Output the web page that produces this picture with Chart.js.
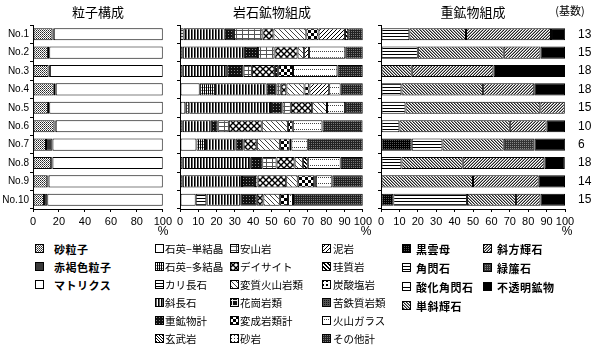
<!DOCTYPE html>
<html>
<head>
<meta charset="utf-8">
<script src="https://cdn.jsdelivr.net/npm/chart.js@4.4.1/dist/chart.umd.min.js"></script>
<style>
  body { margin: 0; background: #fff; }
  #wrap { position: relative; width: 593px; height: 356px; overflow: hidden; font-family: "Noto Sans CJK JP", sans-serif; color: #000; }
  canvas.chart { position: absolute; top: 0; }
  .ttl { position: absolute; top: 2px; font-size: 13px; white-space: nowrap; transform: translateX(-50%); }
  .pct { position: absolute; top: 224px; font-size: 12px; font-family: "Liberation Sans", sans-serif; transform: translateX(-50%); }
  .lg { position: absolute; font-size: 10.5px; white-space: nowrap; line-height: 12px; }
  .lg.b { font-weight: bold; font-size: 11px; letter-spacing: 0.5px; }
  canvas.sw { position: absolute; }
</style>
</head>
<body>
<div id="wrap">
  <canvas id="c1" class="chart" width="175" height="232" style="left:0px"></canvas>
  <canvas id="c2" class="chart" width="205" height="232" style="left:170px"></canvas>
  <canvas id="c3" class="chart" width="221" height="232" style="left:372px"></canvas>
  <div class="ttl" style="left:98px">粒子構成</div>
  <div class="ttl" style="left:272px">岩石鉱物組成</div>
  <div class="ttl" style="left:473px">重鉱物組成</div>
  <div class="ttl" style="left:570px;font-size:11px">(基数)</div>
  <div class="pct" style="left:163px">%</div>
  <div class="pct" style="left:366px">%</div>
  <div class="pct" style="left:567px">%</div>
</div>
<script>
var rowLabels = ["No.1", "No.2", "No.3", "No.4", "No.5", "No.6", "No.7", "No.8", "No.9", "No.10"];

// 粒子構成
var particleLabels = ["砂粒子", "赤褐色粒子", "マトリクス"];
var sandGrains     = [15, 11.5, 12, 16, 11.5, 16.5, 10, 14, 11, 8.5];
var redBrownGrains = [1, 1, 1, 1.5, 1, 1, 5, 1, 1, 2.5];
var matrixPart     = [84, 87.5, 87, 82.5, 87.5, 82.5, 85, 85, 88, 89];

// 岩石鉱物組成
var rockLabels = ["石英−単結晶", "石英−多結晶", "カリ長石", "斜長石", "重鉱物計", "玄武岩",
  "安山岩", "デイサイト", "変質火山岩類", "花崗岩類", "変成岩類計", "砂岩",
  "泥岩", "珪質岩", "炭酸塩岩", "苦鉄質岩類", "火山ガラス", "その他計"];
var qzMono      = [0, 0, 0, 10.8, 2.9, 0, 9, 0, 0, 8.6];
var qzPoly      = [0, 1.5, 1.5, 8.3, 2.2, 1.5, 4.7, 1.5, 1.5, 0];
var kFeldspar   = [2, 0, 0, 0, 0, 0, 0, 0, 0, 5.8];
var plagioclase = [22.5, 34, 24.3, 28.3, 44.7, 15.3, 16.6, 36.9, 32.4, 18.6];
var heavyTotal  = [5, 7.2, 9, 5.4, 6.3, 3.6, 4.5, 6.6, 7.1, 9];
var basalt      = [0, 0, 0, 0, 0, 0, 0, 0, 0, 0];
var andesite    = [15.6, 9, 4.5, 2.3, 4.5, 6.3, 0, 7.8, 1.4, 0];
var dacite      = [6, 12.6, 12.6, 3.1, 11.7, 18, 7.2, 9.9, 15.7, 3.6];
var alteredVolc = [18, 3.6, 0, 9.9, 8.1, 14.3, 12.6, 4.5, 6.3, 9];
var granite     = [0, 0, 1.8, 0, 0, 0, 0, 0, 0, 0];
var metamorphic = [6.7, 0, 8.1, 2.7, 0, 2.7, 5.4, 0, 9, 4.5];
var sandstone   = [0, 0, 0, 0, 0, 0, 0, 0, 0, 0];
var mudstone    = [14.4, 2.7, 0, 10.8, 0, 0, 0, 0, 0, 0];
var siliceous   = [1.8, 0, 0, 0, 0, 0, 0.9, 2.7, 0.9, 0];
var carbonate   = [0, 0, 0, 0, 0, 0, 0, 0, 0, 0];
var mafic       = [0, 0, 0, 0, 0, 0, 0, 0, 0, 0];
var volcGlass   = [0, 19.8, 24.3, 6.3, 9.9, 16.2, 9, 18, 9, 2.7];
var otherTotal  = [8, 9.6, 13.9, 12.1, 9.7, 22, 30.1, 12.1, 16.7, 38.2];

// 重鉱物組成
var heavyLabels = ["黒雲母", "角閃石", "酸化角閃石", "単斜輝石", "斜方輝石", "緑簾石", "不透明鉱物"];
var biotite       = [0, 0, 0, 0, 0, 0, 16.7, 0, 0, 6.7];
var hornblende    = [15.4, 20, 0, 11.1, 13.3, 10, 16.7, 11.1, 0, 40];
var oxyHornblende = [0, 0, 0, 0, 0, 0, 0, 0, 0, 0];
var clinopyroxene = [30.8, 46.7, 16.7, 44.4, 73.3, 60, 33.3, 33.3, 50, 26.7];
var orthopyroxene = [46.2, 20, 44.4, 27.8, 13.3, 20, 0, 44.4, 35.7, 13.3];
var epidote       = [0, 0, 0, 0, 0, 0, 16.7, 0, 0, 0];
var opaque        = [7.7, 13.3, 38.9, 16.7, 0, 10, 16.7, 11.1, 14.3, 13.3];
var baseCounts    = ["13", "15", "18", "18", "15", "10", "6", "18", "14", "15"];

// hatch patterns
function tile(w, h, bg, fn) {
  var c = document.createElement("canvas");
  c.width = w; c.height = h;
  var g = c.getContext("2d");
  g.fillStyle = bg; g.fillRect(0, 0, w, h);
  if (fn) fn(g, w, h);
  return g.createPattern(c, "repeat");
}
function px(g, pts, col) {
  g.fillStyle = col || "#000";
  pts.forEach(function (p) { g.fillRect(p[0], p[1], 1, 1); });
}
function diagDown(g, n, col) { for (var i = 0; i < n; i++) px(g, [[i, i]], col); }
function diagUp(g, n, col) { for (var i = 0; i < n; i++) px(g, [[i, n - 1 - i]], col); }

var sandPat  = tile(2, 2, "#fff", function (g) { px(g, [[0, 0]], "#222"); px(g, [[1, 1]], "#666"); });
var hlines   = tile(1, 3, "#fff", function (g) { px(g, [[0, 0]]); });
var vbars    = tile(3, 1, "#fff", function (g) { px(g, [[0, 0]]); px(g, [[1, 0]], "#666"); });
var finegrid = tile(2, 3, "#fff", function (g) { px(g, [[0, 0], [0, 1], [0, 2]]); px(g, [[1, 0]], "#888"); });
var darkDots = tile(3, 3, "#111", function (g) { px(g, [[1, 1]], "#888"); });
var basaltP  = tile(3, 3, "#fff", function (g) { diagDown(g, 3, "#000"); });
var andesP   = tile(6, 4, "#fff", function (g) { px(g, [[0, 2], [1, 2], [2, 2], [3, 2], [4, 2], [5, 2]], "#555"); px(g, [[0, 0], [0, 1], [0, 3]], "#555"); });
var daciteP  = tile(6, 6, "#fff", function (g) {
  g.strokeStyle = "#000"; g.lineWidth = 1.4;
  g.beginPath(); g.moveTo(0, 0); g.lineTo(6, 6); g.moveTo(6, 0); g.lineTo(0, 6); g.stroke();
});
var alteredP = tile(5, 5, "#fff", function (g) { diagDown(g, 5, "#444"); });
var graniteP = tile(5, 5, "#111", function (g) { px(g, [[2, 0], [2, 1], [2, 2], [2, 3], [2, 4], [0, 2], [1, 2], [3, 2], [4, 2]], "#eee"); });
var checkP   = tile(6, 6, "#fff", function (g) { g.fillStyle = "#000"; g.fillRect(0, 0, 3, 3); g.fillRect(3, 3, 3, 3); });
var sandstP  = tile(3, 3, "#fff", function (g) { px(g, [[1, 1]], "#333"); });
var mudP     = tile(4, 4, "#fff", function (g) { diagUp(g, 4, "#000"); });
var silicP   = tile(4, 4, "#fff", function (g) { diagDown(g, 4, "#000"); px(g, [[1, 0], [2, 1], [3, 2], [0, 3]], "#000"); });
var carbP    = tile(4, 4, "#fff", function (g) { g.fillStyle = "#000"; g.fillRect(0, 0, 2, 2); });
var maficP   = tile(2, 2, "#555", function (g) { px(g, [[0, 0]], "#111"); });
var glassP   = tile(2, 6, "#fff", function (g) { px(g, [[0, 3]], "#444"); });
var otherP   = tile(2, 2, "#222", function (g) { px(g, [[1, 1]], "#777"); });
var biotiteP = tile(2, 2, "#000", function (g) { px(g, [[0, 0]], "#555"); });
var oxyP     = tile(1, 8, "#fff", function (g) { px(g, [[0, 5]]); });
var clinoP   = tile(3, 3, "#fff", function (g) { diagDown(g, 3, "#222"); px(g, [[1, 0], [2, 1], [0, 2]], "#999"); });
var orthoP   = tile(3, 3, "#fff", function (g) { diagUp(g, 3, "#222"); px(g, [[0, 1], [1, 0], [2, 2]], "#999"); });
var epidoteP = tile(2, 2, "#333", function (g) { px(g, [[0, 0]], "#888"); });

var particleFills = [sandPat, "#3a3a3a", "#fff"];
var rockFills = ["#fff", finegrid, hlines, vbars, darkDots, basaltP, andesP, daciteP, alteredP,
  graniteP, checkP, sandstP, mudP, silicP, carbP, maficP, glassP, otherP];
var heavyFills = [biotiteP, hlines, oxyP, clinoP, orthoP, epidoteP, "#000"];

var tickFont = { family: "'Liberation Sans', sans-serif", size: 11 };
var rowFont = { family: "'Liberation Sans', sans-serif", size: 10 };

function sets(labels, series, fills) {
  return series.map(function (arr, i) {
    return {
      label: labels[i],
      data: arr.map(function (v) { return v || null; }),
      backgroundColor: fills[i]
    };
  });
}

function makeChart(id, datasets, step, yWidth, rightPad, showRows, extraScales) {
  var scales = {
    x: {
      stacked: true, min: 0, max: 100,
      ticks: { stepSize: step, font: tickFont, color: "#000", padding: 3, maxRotation: 0, autoSkip: false },
      grid: { drawOnChartArea: false, tickLength: 3, color: "#000" },
      border: { color: "#000" },
      afterFit: function (s) { s.height = 23; }
    },
    y: {
      stacked: true,
      ticks: { display: showRows, font: rowFont, color: "#000", padding: 1 },
      grid: { drawOnChartArea: false, tickLength: 3, offset: true, color: "#000" },
      border: { color: "#000" },
      afterFit: function (s) { s.width = yWidth; }
    }
  };
  if (extraScales) Object.assign(scales, extraScales);
  return new Chart(document.getElementById(id), {
    type: "bar",
    data: { labels: rowLabels, datasets: datasets },
    options: {
      indexAxis: "y",
      responsive: false,
      animation: false,
      layout: { padding: { top: 25, right: rightPad, left: 0, bottom: 0 } },
      datasets: { bar: { barPercentage: 0.66, categoryPercentage: 1, borderColor: "#000", borderWidth: 1, borderSkipped: false } },
      plugins: { legend: { display: false }, tooltip: { enabled: false } },
      scales: scales
    }
  });
}

//particles
makeChart("c1", sets(particleLabels, [sandGrains, redBrownGrains, matrixPart], particleFills), 20, 33, 12, true);

//rocks
makeChart("c2", sets(rockLabels, [qzMono, qzPoly, kFeldspar, plagioclase, heavyTotal, basalt,
  andesite, dacite, alteredVolc, granite, metamorphic, sandstone,
  mudstone, siliceous, carbonate, mafic, volcGlass, otherTotal], rockFills), 10, 10, 10, false);

//heavy minerals
makeChart("c3", sets(heavyLabels, [biotite, hornblende, oxyHornblende, clinopyroxene, orthopyroxene, epidote, opaque], heavyFills), 10, 9, 0, false, {
  y2: {
    type: "category", labels: baseCounts, position: "right", offset: true,
    ticks: { font: { family: "'Liberation Sans', sans-serif", size: 12 }, color: "#000", padding: 5 },
    grid: { display: false }, border: { display: false },
    afterFit: function (s) { s.width = 28; }
  }
});

// legends
var wrap = document.getElementById("wrap");
function legendItem(text, fill, sx, sy, tx, bold) {
  var c = document.createElement("canvas");
  c.className = "sw"; c.width = 9; c.height = 9;
  c.style.left = sx + "px"; c.style.top = (sy - 5) + "px";
  var g = c.getContext("2d");
  g.fillStyle = fill; g.fillRect(0, 0, 9, 9);
  g.strokeStyle = "#000"; g.lineWidth = 1; g.strokeRect(0.5, 0.5, 8, 8);
  wrap.appendChild(c);
  var d = document.createElement("div");
  d.className = bold ? "lg b" : "lg";
  d.textContent = text;
  d.style.left = tx + "px"; d.style.top = (sy - 6) + "px";
  wrap.appendChild(d);
}
var rowY = [249, 267, 285, 303, 321, 339];
particleLabels.forEach(function (t, i) { legendItem(t, particleFills[i], 35, rowY[i], 54, true); });
rockLabels.forEach(function (t, i) {
  var col = Math.floor(i / 6), r = i % 6;
  legendItem(t, rockFills[i], [155, 230, 322][col], rowY[r], [165, 240, 333][col], false);
});
heavyLabels.forEach(function (t, i) {
  var col = i < 4 ? 0 : 1, r = i < 4 ? i : i - 4;
  legendItem(t, heavyFills[i], [402, 483][col], [249, 268, 287, 306][r], [416, 497][col], true);
});
</script>
</body>
</html>
